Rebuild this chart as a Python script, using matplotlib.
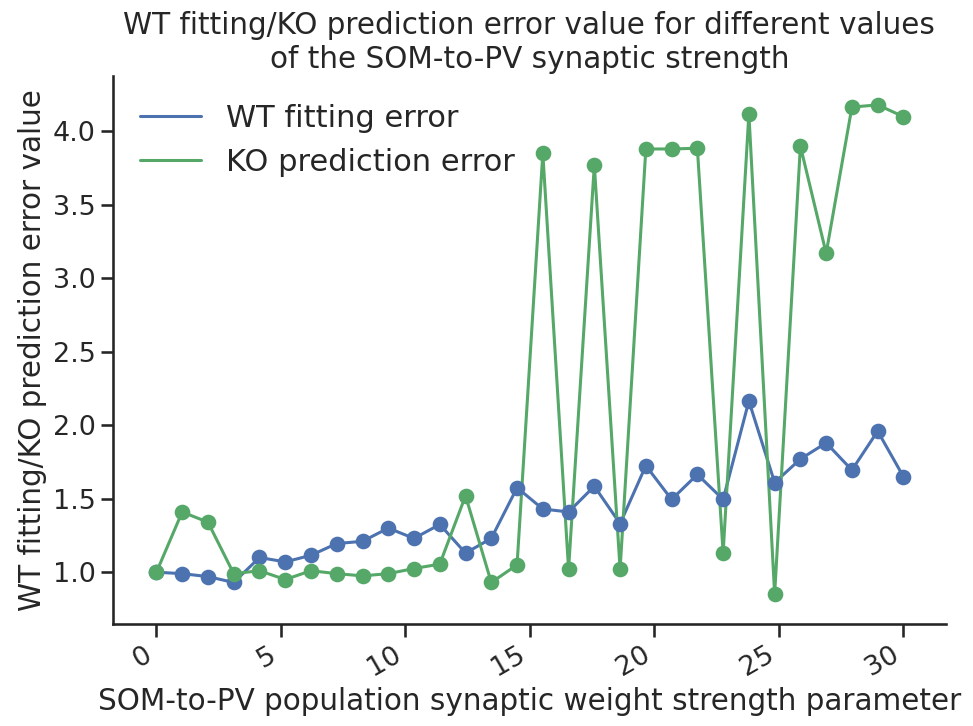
import numpy as np
import matplotlib
matplotlib.use("Agg")
import matplotlib.pyplot as plt
import seaborn as sns

# SOM-to-PV strength values (30 runs between 0 and 30)
strength = np.linspace(0, 30, 30)

wt_error = [1.00, 0.99, 0.97, 0.93, 1.10, 1.07, 1.115, 1.195, 1.21, 1.30,
            1.23, 1.325, 1.13, 1.23, 1.575, 1.43, 1.41, 1.585, 1.33, 1.725,
            1.495, 1.665, 1.495, 2.165, 1.61, 1.77, 1.88, 1.695, 1.96, 1.65]
ko_error = [1.00, 1.41, 1.34, 0.99, 1.01, 0.95, 1.01, 0.99, 0.975, 0.99,
            1.025, 1.055, 1.52, 0.93, 1.05, 3.85, 1.02, 3.77, 1.02, 3.88,
            3.88, 3.885, 1.13, 4.12, 0.85, 3.90, 3.17, 4.165, 4.18, 4.10]

sns.set_theme(style="ticks", context="talk", font_scale=1.18)
pal = sns.color_palette("deep")

fig, ax = plt.subplots(figsize=(9.73, 7.26), dpi=100)
ax.plot(strength, wt_error, color=pal[0], lw=2.2, label="WT fitting error")
ax.plot(strength, ko_error, color=pal[2], lw=2.2, label="KO prediction error")
ax.scatter(strength, wt_error, color=pal[0], s=95, zorder=3)
ax.scatter(strength, ko_error, color=pal[2], s=95, zorder=3)

ax.set_xlim(-1.75, 31.7)
ax.set_ylim(0.645, 4.375)
ax.set_xticks([0, 5, 10, 15, 20, 25, 30])
ax.set_xlabel("SOM-to-PV population synaptic weight strength parameter")
ax.set_ylabel("WT fitting/KO prediction error value")
ax.set_title("WT fitting/KO prediction error value for different values\n"
             "of the SOM-to-PV synaptic strength")
ax.legend(loc="upper left", frameon=False, fontsize=22)
sns.despine()
plt.setp(ax.get_xticklabels(), rotation=30, ha="right")
fig.subplots_adjust(left=0.116, right=0.972, top=0.895, bottom=0.14)
fig.savefig("out.png")
